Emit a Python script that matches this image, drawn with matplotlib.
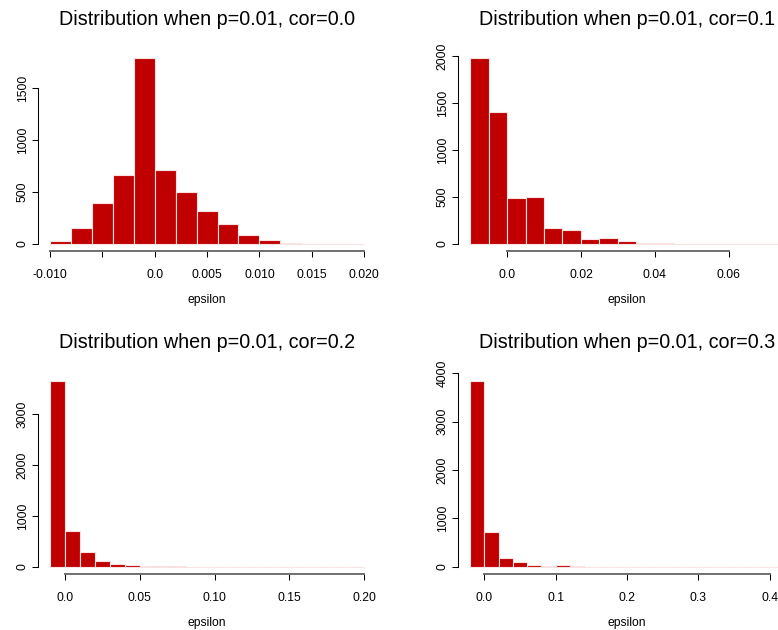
import matplotlib
matplotlib.use("Agg")
import matplotlib.pyplot as plt
import numpy as np

plt.rcParams['font.family'] = ['Liberation Sans', 'DejaVu Sans']

# ---- data ----
titles = ["Distribution when p=0.01, cor=0.0",
          "Distribution when p=0.01, cor=0.1",
          "Distribution when p=0.01, cor=0.2",
          "Distribution when p=0.01, cor=0.3"]

bin_start = [-0.010, -0.010, -0.010, -0.020]
bin_width = [0.002, 0.005, 0.010, 0.020]

counts_cor00 = [25, 150, 390, 665, 1790, 716, 495, 321, 190, 90, 35, 8, 2, 3, 4]
counts_cor01 = [1985, 1410, 495, 502, 174, 153, 53, 68, 28, 14, 5, 4, 3, 0, 2, 2, 2]
counts_cor02 = [3660, 694, 282, 105, 52, 39, 22, 18, 16, 5, 4, 3, 3, 2, 2, 2, 1, 1, 1, 1, 1]
counts_cor03 = [3850, 723, 186, 89, 45, 18, 30, 6, 5, 3, 3, 2, 2, 2, 2, 1, 1, 1, 1, 1, 1, 1]
counts = [counts_cor00, counts_cor01, counts_cor02, counts_cor03]

xticks = [[-0.010, -0.005, 0.0, 0.005, 0.010, 0.015, 0.020],
          [0.0, 0.02, 0.04, 0.06],
          [0.0, 0.05, 0.10, 0.15, 0.20],
          [0.0, 0.1, 0.2, 0.3, 0.4]]
xticklabels = [["-0.010", "", "0.0", "0.005", "0.010", "0.015", "0.020"],
               ["0.0", "0.02", "0.04", "0.06"],
               ["0.0", "0.05", "0.10", "0.15", "0.20"],
               ["0.0", "0.1", "0.2", "0.3", "0.4"]]
yticks = [[0, 500, 1000, 1500],
          [0, 500, 1000, 1500, 2000],
          [0, 1000, 2000, 3000],
          [0, 1000, 2000, 3000, 4000]]
xlabel = "epsilon"

# ---- layout ----
W, H = 778, 630
fig = plt.figure(figsize=(W / 100, H / 100), dpi=100)
col_left = [37.6, 457.6]
row_top = [50.4, 373.2]
pw, ph = 339.0, 201.0

bar_color = "#C00000"
edge_color = "#f8e2e2"
tick_len = 4.0  # pt

for i in range(4):
    r, c = divmod(i, 2)
    left = col_left[c] / W
    bottom = (H - row_top[r] - ph) / H
    ax = fig.add_axes([left, bottom, pw / W, ph / H])
    cnt = np.array(counts[i], dtype=float)
    n = len(cnt)
    edges = bin_start[i] + bin_width[i] * np.arange(n + 1)
    ax.bar(edges[:-1], cnt, width=bin_width[i], align='edge',
           color=bar_color, edgecolor=edge_color, linewidth=0.8)
    lo, hi = edges[0], edges[-1]
    span = hi - lo
    ax.set_xlim(lo - 0.04 * span, hi + 0.04 * span)
    ymax = cnt.max()
    ax.set_ylim(-0.04 * ymax, 1.04 * ymax)

    for s in ['top', 'right']:
        ax.spines[s].set_visible(False)
    ax.spines['left'].set_bounds(yticks[i][0], yticks[i][-1])
    ax.spines['bottom'].set_bounds(xticks[i][0], xticks[i][-1])
    ax.spines['left'].set_linewidth(0.75)
    ax.spines['left'].set_color('black')
    ax.spines['bottom'].set_linewidth(1.4)
    ax.spines['bottom'].set_color('#707070')

    ax.set_xticks(xticks[i])
    ax.set_xticklabels(xticklabels[i], fontsize=8.7)
    ax.set_yticks(yticks[i])
    ax.set_yticklabels([str(v) for v in yticks[i]], fontsize=8.7,
                       rotation=90, va='center')
    ax.tick_params(axis='x', direction='out', length=tick_len, width=0.75,
                   pad=8.6, colors='black')
    ax.tick_params(axis='y', direction='out', length=tick_len, width=0.75,
                   pad=2.3, colors='black')
    ax.set_title(titles[i], fontsize=14.25, pad=18.0, color='black')
    ax.text(0.5, -51.6 / ph, xlabel, transform=ax.transAxes,
            ha='center', va='baseline', fontsize=8.7)
    ax.patch.set_visible(False)

fig.savefig("out.png", dpi=100)
